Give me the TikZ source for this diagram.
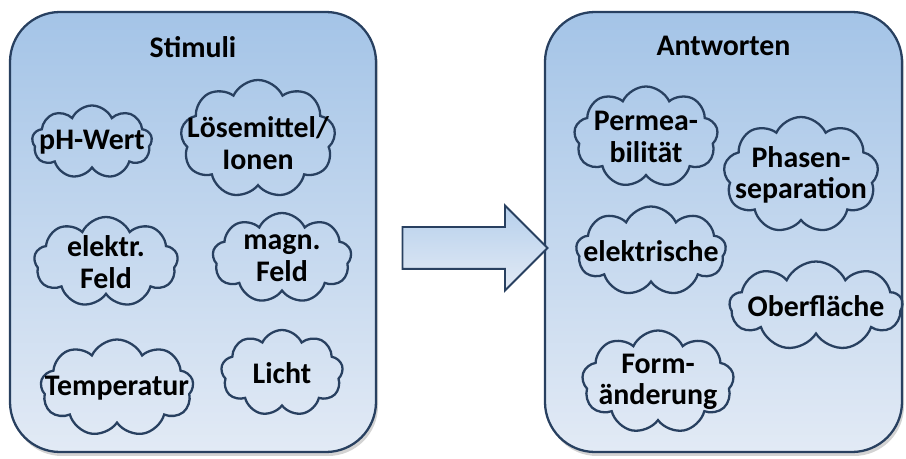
\documentclass[tikz,border=0pt]{standalone}
\usepackage{fontspec}
\setmainfont{Carlito}
\usetikzlibrary{shapes.symbols, shapes.arrows, shadows, positioning}

\definecolor{rand}{RGB}{40,64,96}
\definecolor{hellblau}{RGB}{226,234,245}
\definecolor{mittelblau}{RGB}{164,196,231}

\begin{document}
\begin{tikzpicture}[
    panel/.style={rectangle, draw=rand, line width=1.3pt, rounded corners=1cm,
                  top color=mittelblau, bottom color=hellblau,
                  minimum height=8.8cm,
                  drop shadow={opacity=0.35, shadow xshift=0.04cm, shadow yshift=-0.08cm}},
    puff/.style={cloud, cloud puffs=9, cloud puff arc=130, cloud ignores aspect,
                 draw=rand, line width=1.3pt, inner sep=0pt},
    lbl/.style={font=\fontsize{17}{18}\selectfont\bfseries, align=center},
    titel/.style={font=\fontsize{17}{18}\selectfont\bfseries},
    pfeil/.style={single arrow, draw=rand, line width=1.1pt, inner sep=0.4cm,
                  minimum height=2.9cm, single arrow head extend=0.43cm,
                  top color=mittelblau!80, bottom color=hellblau}
]
  \useasboundingbox (0,0) rectangle (18.12,9.18);

  % Kaesten
  \node[panel, minimum width=7.32cm] (stimuli)   at (3.86,4.54)  {};
  \node[panel, minimum width=7.14cm] (antworten) at (14.47,4.54) {};
  \node[titel, below=0.38cm of stimuli.north]   (tstim) {Stimuli};
  \node[titel, below=0.38cm of antworten.north] (tantw) {Antworten};

  % Stimuli
  \node[puff, minimum width=2.40cm, minimum height=1.46cm, label={[lbl]center:pH-Wert}] (ph) at (1.84,6.34) {};
  \node[puff, minimum width=3.10cm, minimum height=2.36cm, label={[lbl, yshift=-0.08cm]center:Lösemittel/\\Ionen}] (loese) at (5.16,6.40) {};
  \node[puff, minimum width=2.88cm, minimum height=1.80cm, label={[lbl]center:elektr.\\Feld}] (efeld) at (2.12,3.94) {};
  \node[puff, minimum width=2.78cm, minimum height=1.80cm, label={[lbl]center:magn.\\Feld}] (mfeld) at (5.64,4.02) {};
  \node[puff, minimum width=3.06cm, minimum height=1.94cm, label={[lbl]center:Temperatur}] (temp) at (2.34,1.42) {};
  \node[puff, minimum width=2.44cm, minimum height=1.72cm, label={[lbl]center:Licht}] (licht) at (5.64,1.72) {};

  % Antworten
  \node[puff, minimum width=2.88cm, minimum height=2.02cm, label={[lbl]center:Permea-\\bilität}] (perm) at (12.92,6.44) {};
  \node[puff, minimum width=3.10cm, minimum height=2.32cm, label={[lbl]center:Phasen-\\separation}] (phasen) at (16.02,5.68) {};
  \node[puff, minimum width=3.00cm, minimum height=1.78cm, label={[lbl]center:elektrische}] (elek) at (13.02,4.16) {};
  \node[puff, minimum width=3.46cm, minimum height=1.78cm, label={[lbl]center:Oberfläche}] (ober) at (16.32,3.06) {};
  \node[puff, minimum width=3.04cm, minimum height=2.06cm, label={[lbl]center:Form-\\änderung}] (form) at (13.16,1.54) {};

  % Pfeil
  \node[pfeil] (pf) at (9.29,4.22) {};
\end{tikzpicture}
\end{document}
